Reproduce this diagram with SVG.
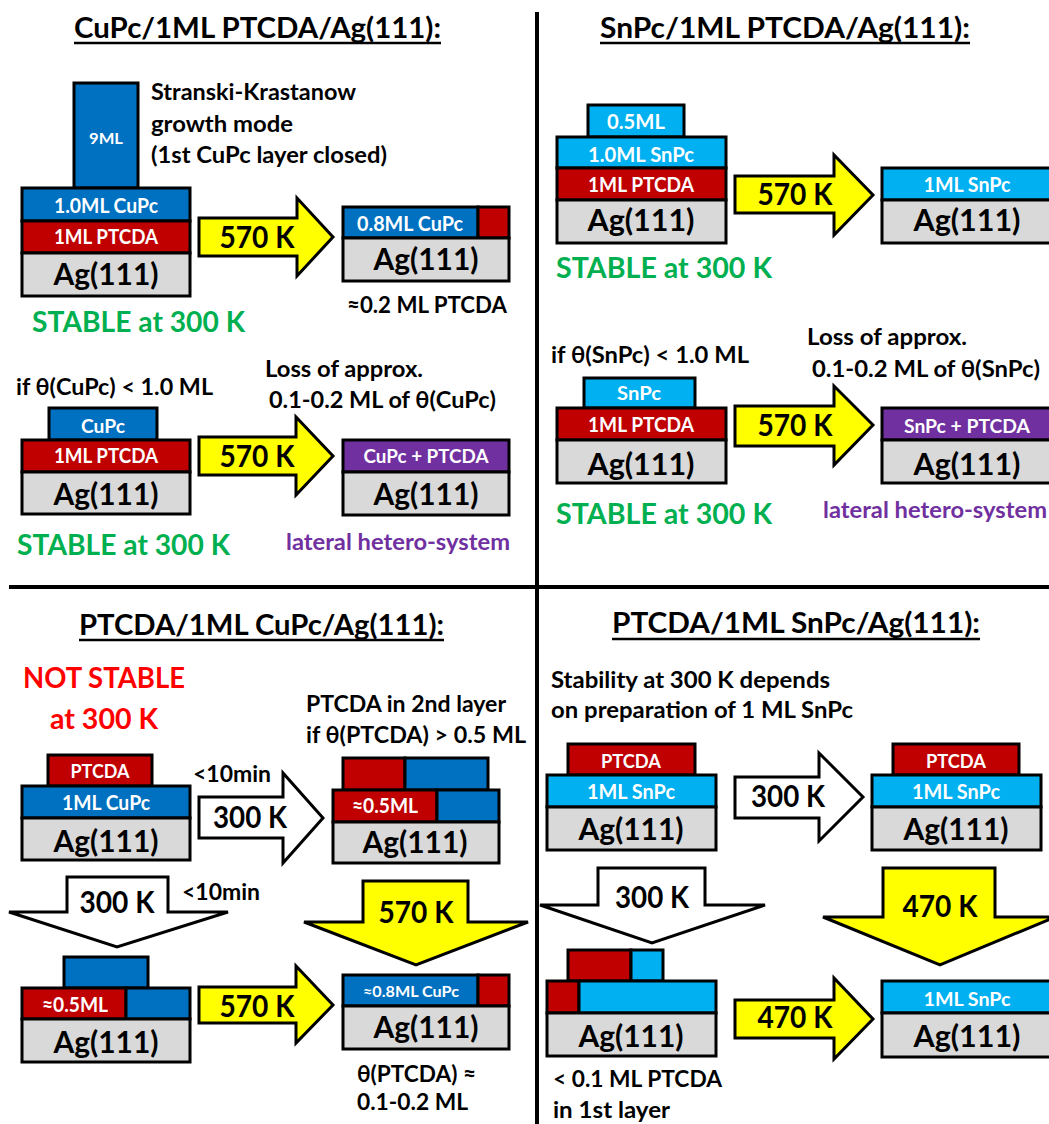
<svg xmlns="http://www.w3.org/2000/svg" width="1049" height="1124" viewBox="0 0 1049 1124">
<style>
text{font-family:Lato,"Liberation Sans",sans-serif;font-weight:700;fill:#000}
.c{text-anchor:middle}
.w{fill:#fff}
.ttl{font-size:28px}
.lb{font-size:22px}
.big{font-size:30px}
.ly{font-size:20px}
.sm{font-size:18px}
.gr{fill:#00B050;font-size:28px}
.pu{fill:#7030A0;font-size:22px}
.rd{fill:#FF0000;font-size:28px}
rect{stroke:#000;stroke-width:3}
.blue{fill:#0070C0}
.red{fill:#C00000}
.ag{fill:#D9D9D9}
.lblue{fill:#00B0F0}
.purp{fill:#7030A0}
.ya{fill:#FFFF00;stroke:#000;stroke-width:3;stroke-linejoin:miter}
.wa{fill:#FFFFFF;stroke:#000;stroke-width:3;stroke-linejoin:miter}
.ul{stroke:#000;stroke-width:2.5}
.div{stroke:#000;stroke-width:4}
</style>
<rect x="0" y="0" width="1049" height="1124" fill="#fff" style="stroke:none"/>
<g id="dividers">
<line class="div" x1="537" y1="12" x2="537" y2="1124"/>
<line class="div" x1="9" y1="587" x2="1049" y2="587"/>
</g>
<!-- titles -->
<g id="title1"><text class="ttl" x="74" y="38" textLength="367" lengthAdjust="spacingAndGlyphs">CuPc/1ML PTCDA/Ag(111):</text><line class="ul" x1="74" y1="43" x2="441" y2="43"/></g>
<g id="title2"><text class="ttl" x="600" y="38" textLength="370" lengthAdjust="spacingAndGlyphs">SnPc/1ML PTCDA/Ag(111):</text><line class="ul" x1="600" y1="43" x2="970" y2="43"/></g>
<g id="title3"><text class="ttl" x="79" y="635" textLength="365" lengthAdjust="spacingAndGlyphs">PTCDA/1ML CuPc/Ag(111):</text><line class="ul" x1="79" y1="640" x2="444" y2="640"/></g>
<g id="title4"><text class="ttl" x="612" y="633" textLength="368" lengthAdjust="spacingAndGlyphs">PTCDA/1ML SnPc/Ag(111):</text><line class="ul" x1="612" y1="639" x2="980" y2="639"/></g>

<!-- Q1 -->
<g id="s1">
<rect class="blue" x="74" y="83" width="64" height="105"/>
<text class="w c" style="font-size:16px" x="106" y="144" textLength="34" lengthAdjust="spacingAndGlyphs">9ML</text>
<rect class="blue" x="22" y="188" width="168" height="33"/>
<text class="ly w c" x="106" y="213" textLength="104" lengthAdjust="spacingAndGlyphs">1.0ML CuPc</text>
<rect class="red" x="22" y="221" width="168" height="32"/>
<text class="ly w c" x="106" y="244" textLength="104" lengthAdjust="spacingAndGlyphs">1ML PTCDA</text>
<rect class="ag" x="22" y="253" width="168" height="43"/>
<text class="big c" x="106" y="285" textLength="105" lengthAdjust="spacingAndGlyphs">Ag(111)</text>
</g>
<g id="note1">
<text class="lb" x="151" y="100" textLength="205" lengthAdjust="spacingAndGlyphs">Stranski-Krastanow</text>
<text class="lb" x="151" y="132" textLength="142" lengthAdjust="spacingAndGlyphs">growth mode</text>
<text class="lb" x="151" y="163" textLength="236" lengthAdjust="spacingAndGlyphs">(1st CuPc layer closed)</text>
</g>
<g id="s2">
<rect class="blue" x="343" y="207" width="135" height="31"/>
<rect class="red" x="478" y="207" width="31" height="31"/>
<text class="ly w c" x="410" y="231" textLength="106" lengthAdjust="spacingAndGlyphs">0.8ML CuPc</text>
<rect class="ag" x="343" y="238" width="166" height="43"/>
<text class="big c" x="426" y="270" textLength="105" lengthAdjust="spacingAndGlyphs">Ag(111)</text>
</g>
<g id="note2"><text class="lb" x="347" y="313" textLength="160" lengthAdjust="spacingAndGlyphs">≈0.2 ML PTCDA</text></g>
<g id="stable1"><text class="gr" x="32" y="332" textLength="213" lengthAdjust="spacingAndGlyphs">STABLE at 300 K</text></g>

<g id="note3"><text class="lb" x="16" y="395" textLength="197" lengthAdjust="spacingAndGlyphs">if θ(CuPc) &lt; 1.0 ML</text></g>
<g id="note4">
<text class="lb" x="265" y="377" textLength="158" lengthAdjust="spacingAndGlyphs">Loss of approx.</text>
<text class="lb" x="269" y="408" textLength="227" lengthAdjust="spacingAndGlyphs">0.1-0.2 ML of θ(CuPc)</text>
</g>
<g id="s3">
<rect class="blue" x="49" y="408" width="108" height="32"/>
<text class="sm w c" x="103" y="433" textLength="44" lengthAdjust="spacingAndGlyphs">CuPc</text>
<rect class="red" x="22" y="440" width="168" height="32"/>
<text class="ly w c" x="106" y="463" textLength="104" lengthAdjust="spacingAndGlyphs">1ML PTCDA</text>
<rect class="ag" x="22" y="472" width="168" height="42"/>
<text class="big c" x="106" y="505" textLength="105" lengthAdjust="spacingAndGlyphs">Ag(111)</text>
</g>
<g id="s4">
<rect class="purp" x="343" y="440" width="166" height="32"/>
<text class="sm w c" x="426" y="463" textLength="125" lengthAdjust="spacingAndGlyphs">CuPc + PTCDA</text>
<rect class="ag" x="343" y="472" width="166" height="43"/>
<text class="big c" x="426" y="505" textLength="105" lengthAdjust="spacingAndGlyphs">Ag(111)</text>
</g>
<g id="stable2"><text class="gr" x="17" y="555" textLength="213" lengthAdjust="spacingAndGlyphs">STABLE at 300 K</text></g>
<g id="lat1"><text class="pu" x="286" y="550" textLength="224" lengthAdjust="spacingAndGlyphs">lateral hetero-system</text></g>

<!-- Q2 -->
<g id="s5">
<rect class="lblue" x="588" y="105" width="96" height="32"/>
<text class="ly w c" x="636" y="129" textLength="58" lengthAdjust="spacingAndGlyphs">0.5ML</text>
<rect class="lblue" x="557" y="137" width="169" height="31"/>
<text class="ly w c" x="641" y="162" textLength="106" lengthAdjust="spacingAndGlyphs">1.0ML SnPc</text>
<rect class="red" x="557" y="168" width="169" height="32"/>
<text class="ly w c" x="641" y="192" textLength="106" lengthAdjust="spacingAndGlyphs">1ML PTCDA</text>
<rect class="ag" x="557" y="200" width="169" height="43"/>
<text class="big c" x="641" y="231" textLength="107" lengthAdjust="spacingAndGlyphs">Ag(111)</text>
</g>
<g id="s6">
<rect class="lblue" x="882" y="168" width="170" height="32"/>
<text class="ly w c" x="967" y="192" textLength="87" lengthAdjust="spacingAndGlyphs">1ML SnPc</text>
<rect class="ag" x="882" y="200" width="170" height="43"/>
<text class="big c" x="967" y="231" textLength="107" lengthAdjust="spacingAndGlyphs">Ag(111)</text>
</g>
<g id="stable3"><text class="gr" x="556" y="278" textLength="216" lengthAdjust="spacingAndGlyphs">STABLE at 300 K</text></g>
<g id="note5"><text class="lb" x="551" y="363" textLength="198" lengthAdjust="spacingAndGlyphs">if θ(SnPc) &lt; 1.0 ML</text></g>
<g id="note6">
<text class="lb" x="807" y="345" textLength="160" lengthAdjust="spacingAndGlyphs">Loss of approx.</text>
<text class="lb" x="812" y="377" textLength="228" lengthAdjust="spacingAndGlyphs">0.1-0.2 ML of θ(SnPc)</text>
</g>
<g id="s7">
<rect class="lblue" x="584" y="378" width="111" height="30"/>
<text class="sm w c" x="639" y="400" textLength="44" lengthAdjust="spacingAndGlyphs">SnPc</text>
<rect class="red" x="557" y="408" width="169" height="32"/>
<text class="ly w c" x="641" y="432" textLength="106" lengthAdjust="spacingAndGlyphs">1ML PTCDA</text>
<rect class="ag" x="557" y="440" width="169" height="43"/>
<text class="big c" x="641" y="475" textLength="107" lengthAdjust="spacingAndGlyphs">Ag(111)</text>
</g>
<g id="s8">
<rect class="purp" x="882" y="408" width="170" height="32"/>
<text class="sm w c" x="967" y="433" textLength="126" lengthAdjust="spacingAndGlyphs">SnPc + PTCDA</text>
<rect class="ag" x="882" y="440" width="170" height="43"/>
<text class="big c" x="967" y="475" textLength="107" lengthAdjust="spacingAndGlyphs">Ag(111)</text>
</g>
<g id="stable4"><text class="gr" x="556" y="524" textLength="216" lengthAdjust="spacingAndGlyphs">STABLE at 300 K</text></g>
<g id="lat2"><text class="pu" x="823" y="518" textLength="224" lengthAdjust="spacingAndGlyphs">lateral hetero-system</text></g>

<!-- Q3 -->
<g id="notstable">
<text class="rd" x="23" y="688" textLength="162" lengthAdjust="spacingAndGlyphs">NOT STABLE</text>
<text class="rd" x="50" y="729" textLength="108" lengthAdjust="spacingAndGlyphs">at 300 K</text>
</g>
<g id="note7">
<text class="lb" x="306" y="712" textLength="200" lengthAdjust="spacingAndGlyphs">PTCDA in 2nd layer</text>
<text class="lb" x="306" y="743" textLength="220" lengthAdjust="spacingAndGlyphs">if θ(PTCDA) &gt; 0.5 ML</text>
</g>
<g id="s9">
<rect class="red" x="48" y="755" width="104" height="31"/>
<text class="sm w c" x="100" y="778" textLength="59" lengthAdjust="spacingAndGlyphs">PTCDA</text>
<rect class="blue" x="22" y="786" width="168" height="32"/>
<text class="ly w c" x="106" y="810" textLength="88" lengthAdjust="spacingAndGlyphs">1ML CuPc</text>
<rect class="ag" x="22" y="818" width="168" height="42"/>
<text class="big c" x="106" y="852" textLength="105" lengthAdjust="spacingAndGlyphs">Ag(111)</text>
</g>
<g id="t10a"><text class="lb" x="193" y="782" textLength="78" lengthAdjust="spacingAndGlyphs">&lt;10min</text></g>
<g id="s10">
<rect class="red" x="343" y="758" width="62" height="32"/>
<rect class="blue" x="405" y="758" width="83" height="32"/>
<rect class="red" x="333" y="790" width="104" height="32"/>
<rect class="blue" x="437" y="790" width="62" height="32"/>
<text class="ly w c" x="385" y="813" textLength="66" lengthAdjust="spacingAndGlyphs">≈0.5ML</text>
<rect class="ag" x="333" y="822" width="166" height="41"/>
<text class="big c" x="415" y="853" textLength="105" lengthAdjust="spacingAndGlyphs">Ag(111)</text>
</g>
<g id="t10b"><text class="lb" x="182" y="900" textLength="78" lengthAdjust="spacingAndGlyphs">&lt;10min</text></g>
<g id="s11">
<rect class="blue" x="64" y="957" width="84" height="31"/>
<rect class="red" x="22" y="988" width="104" height="31"/>
<rect class="blue" x="126" y="988" width="64" height="31"/>
<text class="ly w c" x="75" y="1012" textLength="66" lengthAdjust="spacingAndGlyphs">≈0.5ML</text>
<rect class="ag" x="22" y="1019" width="168" height="43"/>
<text class="big c" x="106" y="1053" textLength="105" lengthAdjust="spacingAndGlyphs">Ag(111)</text>
</g>
<g id="s12">
<rect class="blue" x="343" y="975" width="135" height="31"/>
<rect class="red" x="478" y="975" width="31" height="31"/>
<text class="w c" style="font-size:15px" x="411" y="997" textLength="96" lengthAdjust="spacingAndGlyphs">≈0.8ML CuPc</text>
<rect class="ag" x="343" y="1006" width="166" height="43"/>
<text class="big c" x="426" y="1038" textLength="105" lengthAdjust="spacingAndGlyphs">Ag(111)</text>
</g>
<g id="note8">
<text class="lb" x="357" y="1082" textLength="119" lengthAdjust="spacingAndGlyphs">θ(PTCDA) ≈</text>
<text class="lb" x="357" y="1110" textLength="111" lengthAdjust="spacingAndGlyphs">0.1-0.2 ML</text>
</g>

<!-- Q4 -->
<g id="note9">
<text class="lb" x="551" y="688" textLength="279" lengthAdjust="spacingAndGlyphs">Stability at 300 K depends</text>
<text class="lb" x="551" y="718" textLength="302" lengthAdjust="spacingAndGlyphs">on preparation of 1 ML SnPc</text>
</g>
<g id="s13">
<rect class="red" x="568" y="744" width="127" height="31"/>
<text class="sm w c" x="631" y="768" textLength="60" lengthAdjust="spacingAndGlyphs">PTCDA</text>
<rect class="lblue" x="547" y="775" width="169" height="32"/>
<text class="ly w c" x="631" y="799" textLength="88" lengthAdjust="spacingAndGlyphs">1ML SnPc</text>
<rect class="ag" x="547" y="807" width="169" height="43"/>
<text class="big c" x="631" y="840" textLength="105" lengthAdjust="spacingAndGlyphs">Ag(111)</text>
</g>
<g id="s14">
<rect class="red" x="893" y="744" width="126" height="31"/>
<text class="sm w c" x="956" y="768" textLength="60" lengthAdjust="spacingAndGlyphs">PTCDA</text>
<rect class="lblue" x="872" y="775" width="169" height="32"/>
<text class="ly w c" x="956" y="799" textLength="88" lengthAdjust="spacingAndGlyphs">1ML SnPc</text>
<rect class="ag" x="872" y="807" width="169" height="43"/>
<text class="big c" x="956" y="840" textLength="105" lengthAdjust="spacingAndGlyphs">Ag(111)</text>
</g>
<g id="s15">
<rect class="red" x="568" y="950" width="63" height="31"/>
<rect class="lblue" x="631" y="950" width="32" height="31"/>
<rect class="red" x="547" y="981" width="32" height="32"/>
<rect class="lblue" x="579" y="981" width="137" height="32"/>
<rect class="ag" x="547" y="1013" width="169" height="43"/>
<text class="big c" x="631" y="1047" textLength="105" lengthAdjust="spacingAndGlyphs">Ag(111)</text>
</g>
<g id="note10">
<text class="lb" x="553" y="1087" textLength="169" lengthAdjust="spacingAndGlyphs">&lt; 0.1 ML PTCDA</text>
<text class="lb" x="553" y="1118" textLength="117" lengthAdjust="spacingAndGlyphs">in 1st layer</text>
</g>
<g id="s16">
<rect class="lblue" x="882" y="981" width="170" height="32"/>
<text class="sm w c" x="967" y="1006" textLength="87" lengthAdjust="spacingAndGlyphs">1ML SnPc</text>
<rect class="ag" x="882" y="1013" width="170" height="44"/>
<text class="big c" x="967" y="1047" textLength="107" lengthAdjust="spacingAndGlyphs">Ag(111)</text>
</g>

<!-- connectors: block arrows -->
<g id="connectors">
<polygon class="ya" points="199,218 297,218 297,198 333,237 297,276 297,256 199,256"/>
<text class="big c" x="257" y="248" textLength="75" lengthAdjust="spacingAndGlyphs">570 K</text>
<polygon class="ya" points="199,437 296,437 296,417 333,456 296,495 296,475 199,475"/>
<text class="big c" x="257" y="467" textLength="75" lengthAdjust="spacingAndGlyphs">570 K</text>
<polygon class="ya" points="735,176 834,176 834,155 873,195 834,235 834,213 735,213"/>
<text class="big c" x="795" y="205" textLength="75" lengthAdjust="spacingAndGlyphs">570 K</text>
<polygon class="ya" points="735,406 834,406 834,386 873,425 834,465 834,446 735,446"/>
<text class="big c" x="795" y="436" textLength="75" lengthAdjust="spacingAndGlyphs">570 K</text>
<polygon class="wa" points="199,797 283,797 283,773 323,818 283,863 283,838 199,838"/>
<text class="big c" x="250" y="828" textLength="74" lengthAdjust="spacingAndGlyphs">300 K</text>
<polygon class="wa" points="67,877 168,877 168,912 228,912 117,947 9,912 67,912"/>
<text class="big c" x="117" y="913" textLength="75" lengthAdjust="spacingAndGlyphs">300 K</text>
<polygon class="ya" points="363,881 468,881 468,922 528,922 416,965 304,922 363,922"/>
<text class="big c" x="416" y="923" textLength="75" lengthAdjust="spacingAndGlyphs">570 K</text>
<polygon class="ya" points="199,987 296,987 296,966 333,1005 296,1043 296,1023 199,1023"/>
<text class="big c" x="257" y="1017" textLength="75" lengthAdjust="spacingAndGlyphs">570 K</text>
<polygon class="wa" points="735,777 819,777 819,753 863,797 819,841 819,818 735,818"/>
<text class="big c" x="788" y="807" textLength="74" lengthAdjust="spacingAndGlyphs">300 K</text>
<polygon class="wa" points="598,868 705,868 705,905 765,905 652,943 540,905 598,905"/>
<text class="big c" x="652" y="908" textLength="74" lengthAdjust="spacingAndGlyphs">300 K</text>
<polygon class="ya" points="883,868 995,868 995,917 1055,917 940,965 823,917 883,917"/>
<text class="big c" x="940" y="917" textLength="75" lengthAdjust="spacingAndGlyphs">470 K</text>
<polygon class="ya" points="735,1000 834,1000 834,978 873,1019 834,1059 834,1038 735,1038"/>
<text class="big c" x="795" y="1028" textLength="75" lengthAdjust="spacingAndGlyphs">470 K</text>
</g>
</svg>
